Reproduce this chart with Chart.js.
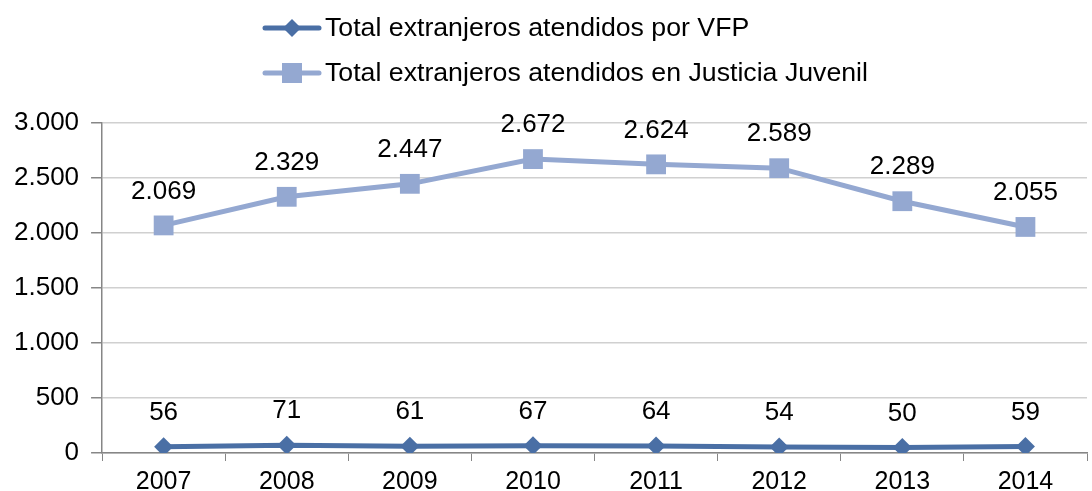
<!DOCTYPE html>
<html>
<head>
<meta charset="utf-8">
<script src="https://cdn.jsdelivr.net/npm/chart.js@4/dist/chart.umd.min.js"></script>
<style>
  html, body { margin: 0; padding: 0; background: #fff; overflow: hidden; }
  #wrap { position: relative; width: 1092px; height: 491px; overflow: hidden; }
  #chart { position: absolute; left: 0; top: 0; }
  .legend { position: absolute; left: 262px; font-family: "Liberation Sans", Arial, sans-serif; font-size: 26.7px; color: #000; display: flex; align-items: center; white-space: nowrap; }
  .legend svg { margin-right: 3px; }
</style>
</head>
<body>
<div id="wrap">
  <canvas id="chart" width="1101" height="503"></canvas>
  <div class="legend" style="top: 12px;">
    <svg width="60" height="24"><line x1="3" y1="12" x2="57" y2="12" stroke="#4A6FA5" stroke-width="5" stroke-linecap="round"/><polygon points="30,3 39,12 30,21 21,12" fill="#4A6FA5"/></svg>
    <span>Total extranjeros atendidos por VFP</span>
  </div>
  <div class="legend" style="top: 57px;">
    <svg width="60" height="24"><line x1="3" y1="12" x2="57" y2="12" stroke="#94A8D1" stroke-width="5" stroke-linecap="round"/><rect x="20" y="2" width="20" height="20" fill="#94A8D1"/></svg>
    <span>Total extranjeros atendidos en Justicia Juvenil</span>
  </div>
</div>
<script>
  const years = ['2007', '2008', '2009', '2010', '2011', '2012', '2013', '2014'];
  const vfpValues = [56, 71, 61, 67, 64, 54, 50, 59];
  const juvenilValues = [2069, 2329, 2447, 2672, 2624, 2589, 2289, 2055];
  const yTicks = [0, 500, 1000, 1500, 2000, 2500, 3000];

  function formatNum(v) {
    return String(v).replace(/\B(?=(\d{3})+(?!\d))/g, '.');
  }

  const valueLabels = {
    id: 'valueLabels',
    afterDatasetsDraw(chart) {
      const ctx = chart.ctx;
      ctx.save();
      ctx.font = '26px "Liberation Sans", Arial, sans-serif';
      ctx.fillStyle = '#000';
      ctx.textAlign = 'center';
      ctx.textBaseline = 'middle';
      chart.data.datasets.forEach((ds, i) => {
        const meta = chart.getDatasetMeta(i);
        meta.data.forEach((pt, j) => {
          ctx.fillText(formatNum(ds.data[j]), pt.x, pt.y - 34);
        });
      });
      ctx.restore();
    }
  };

  Chart.defaults.font.family = '"Liberation Sans", Arial, sans-serif';
  Chart.defaults.font.size = 26;
  Chart.defaults.color = '#000';

  const ctx = document.getElementById('chart').getContext('2d');
  new Chart(ctx, {
    type: 'line',
    data: {
      labels: years,
      datasets: [
        {
          label: 'Total extranjeros atendidos por VFP',
          data: vfpValues,
          borderColor: '#4A6FA5',
          backgroundColor: '#4A6FA5',
          borderWidth: 5,
          pointStyle: 'rectRot',
          pointRadius: 9.5,
          pointBorderWidth: 0,
          tension: 0
        },
        {
          label: 'Total extranjeros atendidos en Justicia Juvenil',
          data: juvenilValues,
          borderColor: '#94A8D1',
          backgroundColor: '#94A8D1',
          borderWidth: 5,
          pointStyle: 'rect',
          pointRadius: 14,
          pointBorderWidth: 0,
          tension: 0
        }
      ]
    },
    options: {
      responsive: false,
      animation: false,
      layout: { padding: { top: 123, left: 2, right: 0, bottom: 0 } },
      plugins: {
        legend: { display: false },
        tooltip: { enabled: false }
      },
      scales: {
        x: {
          offset: true,
          grid: { offset: true, drawOnChartArea: false, color: '#868686', tickLength: 8 },
          border: { color: '#868686', width: 1.5 },
          ticks: { padding: 6, font: { size: 25 } }
        },
        y: {
          min: 0,
          max: 3000,
          afterBuildTicks: (axis) => { axis.ticks = yTicks.map(v => ({ value: v })); },
          grid: { color: '#D0D0D0', lineWidth: 1.5, tickLength: 11, tickColor: '#868686' },
          border: { color: '#868686', width: 1.5 },
          ticks: { padding: 12, callback: (v) => formatNum(v) }
        }
      }
    },
    plugins: [valueLabels]
  });
</script>
</body>
</html>
